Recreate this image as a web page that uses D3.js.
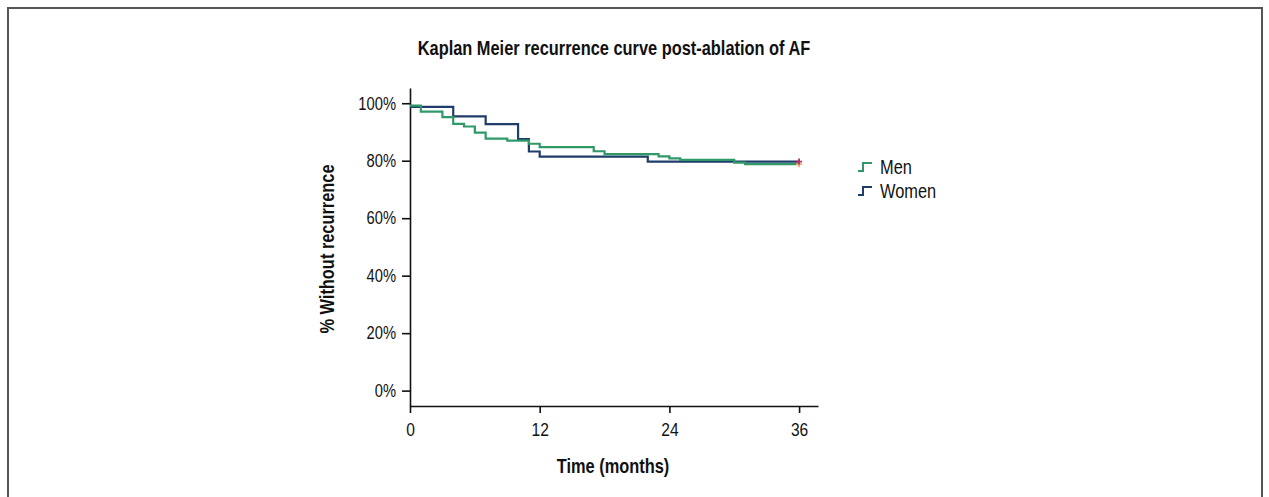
<!DOCTYPE html>
<html>
<head>
<meta charset="utf-8">
<script src="https://cdn.jsdelivr.net/npm/d3@7"></script>
<style>
  body { margin: 0; background: #fff; }
  svg { display: block; }
  text { font-family: "Liberation Sans", Arial, sans-serif; fill: #111; }
</style>
</head>
<body>
<div id="chart"></div>
<script>
// Kaplan-Meier steps (time in months, survival in %)
const menTime = [0, 1, 3, 4, 5, 6, 7, 9, 11, 12, 17, 18, 23, 24, 25, 30, 31, 36];
const menSurv = [99.2, 97.1, 95.2, 92.8, 91.9, 89.8, 87.7, 87.0, 85.9, 84.7, 83.3, 82.3, 81.5, 80.8, 80.3, 79.3, 78.8, 78.8];
const womenTime = [0, 4, 7, 10, 11, 12, 22, 36];
const womenSurv = [98.7, 95.4, 92.7, 87.5, 83.2, 81.4, 79.7, 79.7];

const seriesNames = ["Men", "Women"];
const xTicks = [0, 12, 24, 36];
const yTicks = [0, 20, 40, 60, 80, 100];

const width = 1269;
const height = 497;
const narrow = 0.82; // no Arial Narrow here, so squeeze Liberation Sans

const colors = {Men: "#2f9a68", Women: "#1f3d6b"};
const censorColors = {Men: "#f4a86a", Women: "#b0306a"};

const x = d3.scaleLinear().domain([0, 37.75]).range([410, 818]);
const y = d3.scaleLinear().domain([-5.35, 105.3]).range([406, 88]);

const svg = d3.select("#chart").append("svg")
    .attr("width", width)
    .attr("height", height);

// frame
svg.append("rect")
    .attr("x", 8).attr("y", 8)
    .attr("width", 1254).attr("height", 540)
    .attr("fill", "none")
    .attr("stroke", "#555")
    .attr("stroke-width", 2);

function label(px, py, txt, size, bold, rotate) {
  return svg.append("text")
      .attr("transform", `translate(${px},${py})${rotate ? " rotate(-90)" : ""} scale(${narrow},1)`)
      .attr("text-anchor", "middle")
      .attr("font-weight", bold ? "bold" : null)
      .attr("font-size", size)
      .text(txt);
}

// titles
label(614, 55, "Kaplan Meier recurrence curve post-ablation of AF", 20, true);
label(613, 473, "Time (months)", 20, true);
label(334, 249, "% Without recurrence", 20, true, true);

// axes
const xAxis = svg.append("g")
    .attr("transform", `translate(0,${y(-5.35)})`)
    .call(d3.axisBottom(x).tickValues(xTicks).tickSize(7).tickSizeOuter(0));

const yAxis = svg.append("g")
    .attr("transform", `translate(${x(0)},0)`)
    .call(d3.axisLeft(y).tickValues(yTicks).tickSize(8).tickSizeOuter(0)
        .tickFormat(d => d + "%"));

[xAxis, yAxis].forEach(g => {
  g.select(".domain").attr("stroke", "#111").attr("stroke-width", 1.6);
  g.selectAll(".tick line").attr("stroke", "#111").attr("stroke-width", 1.6);
  g.selectAll(".tick text")
      .attr("font-size", 18)
      .attr("font-family", "'Liberation Sans', Arial, sans-serif")
      .attr("fill", "#111")
      .attr("transform", `scale(${narrow},1)`);
});
xAxis.selectAll(".tick text").attr("font-size", 19).attr("y", 13).attr("dy", "0.9em");
yAxis.selectAll(".tick text").attr("x", -14 / narrow);

// curves
const series = [
  {name: "Men", data: menTime.map((t, i) => ({t, s: menSurv[i]}))},
  {name: "Women", data: womenTime.map((t, i) => ({t, s: womenSurv[i]}))}
];

const line = d3.line()
    .x(d => x(d.t))
    .y(d => y(d.s))
    .curve(d3.curveStepAfter);

// women first so the green sits on top where they overlap
svg.append("g").selectAll("path")
  .data(series.slice().reverse())
  .join("path")
    .attr("d", d => line(d.data))
    .attr("fill", "none")
    .attr("stroke", d => colors[d.name])
    .attr("stroke-width", 2.2);

// censor marks at the end
svg.append("g").selectAll("path")
  .data(series)
  .join("path")
    .attr("transform", d => {
      const last = d.data[d.data.length - 1];
      return `translate(${x(last.t)},${y(last.s)})`;
    })
    .attr("d", "M-3,0H3M0,-3V3")
    .attr("stroke", d => censorColors[d.name])
    .attr("stroke-width", 1.8);

// legend
const legend = svg.append("g").attr("transform", "translate(858,167)");
const item = legend.selectAll("g")
  .data(seriesNames)
  .join("g")
    .attr("transform", (d, i) => `translate(0,${i * 24})`);

item.append("path")
    .attr("d", "M0,4H5V-4H14")
    .attr("fill", "none")
    .attr("stroke", d => colors[d])
    .attr("stroke-width", 2);

item.append("text")
    .attr("transform", `translate(22,0) scale(${narrow},1)`)
    .attr("dy", "0.36em")
    .attr("font-size", 20)
    .text(d => d);
</script>
</body>
</html>
